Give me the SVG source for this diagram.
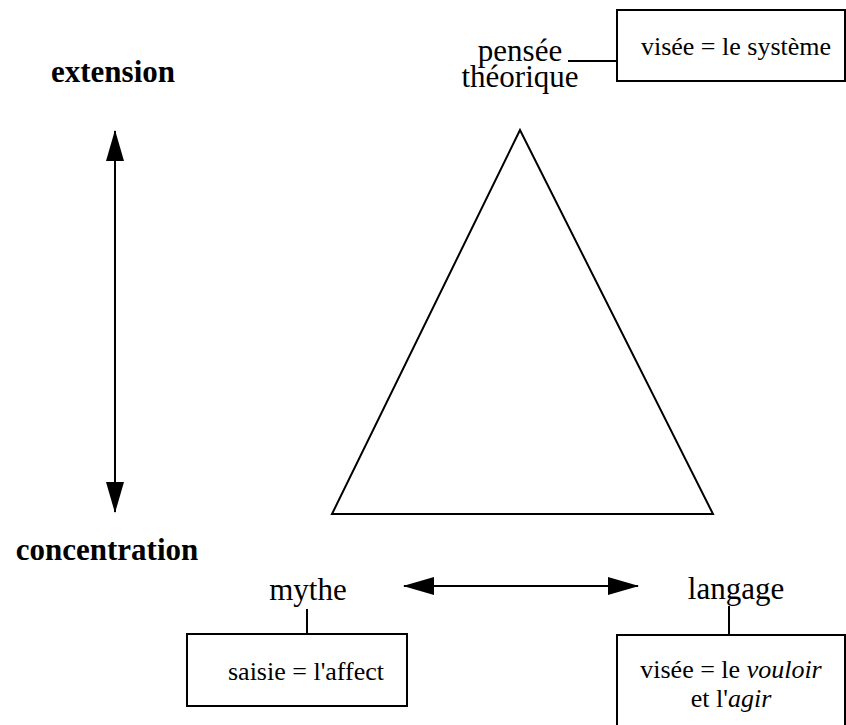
<svg xmlns="http://www.w3.org/2000/svg" width="846" height="725" viewBox="0 0 846 725">
<style>
.lbl{font-family:"Liberation Serif","Times New Roman",serif;font-size:31px;fill:#000}
.bold{font-family:"Liberation Serif","Times New Roman",serif;font-size:31px;font-weight:bold;fill:#000}
.box{fill:#fff;stroke:#000;stroke-width:2}
.bt{font-family:"Liberation Serif","Times New Roman",serif;font-size:26px;fill:#000}
.ln{stroke:#000;stroke-width:2;fill:none}
</style>
<defs>
<marker id="ah" viewBox="0 0 31 18" refX="30" refY="9" markerUnits="userSpaceOnUse" markerWidth="31" markerHeight="18" orient="auto-start-reverse">
<path d="M0,0 L31,9 L0,18 z" fill="#000"/>
</marker>
</defs>
<rect width="846" height="725" fill="#fff"/>
<g id="axis-labels">
<text class="bold" x="113" y="82" text-anchor="middle">extension</text>
<text class="bold" x="107" y="560" text-anchor="middle">concentration</text>
</g>
<g id="triangle">
<polygon class="ln" points="520,130 332,514 713,514" stroke-linejoin="miter"/>
</g>
<g id="node-pensee">
<text class="lbl" x="520" y="61" text-anchor="middle">pensée</text>
<text class="lbl" x="520" y="87" text-anchor="middle">théorique</text>
</g>
<g id="box-systeme">
<rect class="box" x="617" y="10" width="228" height="71"/>
<text class="bt" x="736" y="55" text-anchor="middle">visée = le système</text>
</g>
<g id="node-mythe">
<text class="lbl" x="308" y="600" text-anchor="middle">mythe</text>
</g>
<g id="box-affect">
<rect class="box" x="187" y="634" width="220" height="72"/>
<text class="bt" x="306" y="680" text-anchor="middle">saisie = l'affect</text>
</g>
<g id="node-langage">
<text class="lbl" x="736" y="599" text-anchor="middle">langage</text>
</g>
<g id="box-vouloir">
<path class="ln" d="M617,730 L617,635 L845,635 L845,730"/>
<text class="bt" x="731" y="678" text-anchor="middle">visée = le <tspan font-style="italic">vouloir</tspan></text>
<text class="bt" x="731" y="707" text-anchor="middle">et l'<tspan font-style="italic">agir</tspan></text>
</g>
<g id="connectors">
<line class="ln" x1="115" y1="131" x2="115" y2="512" marker-start="url(#ah)" marker-end="url(#ah)"/>
<line class="ln" x1="404" y1="586" x2="638" y2="586" marker-start="url(#ah)" marker-end="url(#ah)"/>
<line class="ln" x1="568" y1="61" x2="617" y2="61"/>
<line class="ln" x1="307" y1="609" x2="307" y2="634"/>
<line class="ln" x1="729" y1="606" x2="729" y2="635"/>
</g>
</svg>
